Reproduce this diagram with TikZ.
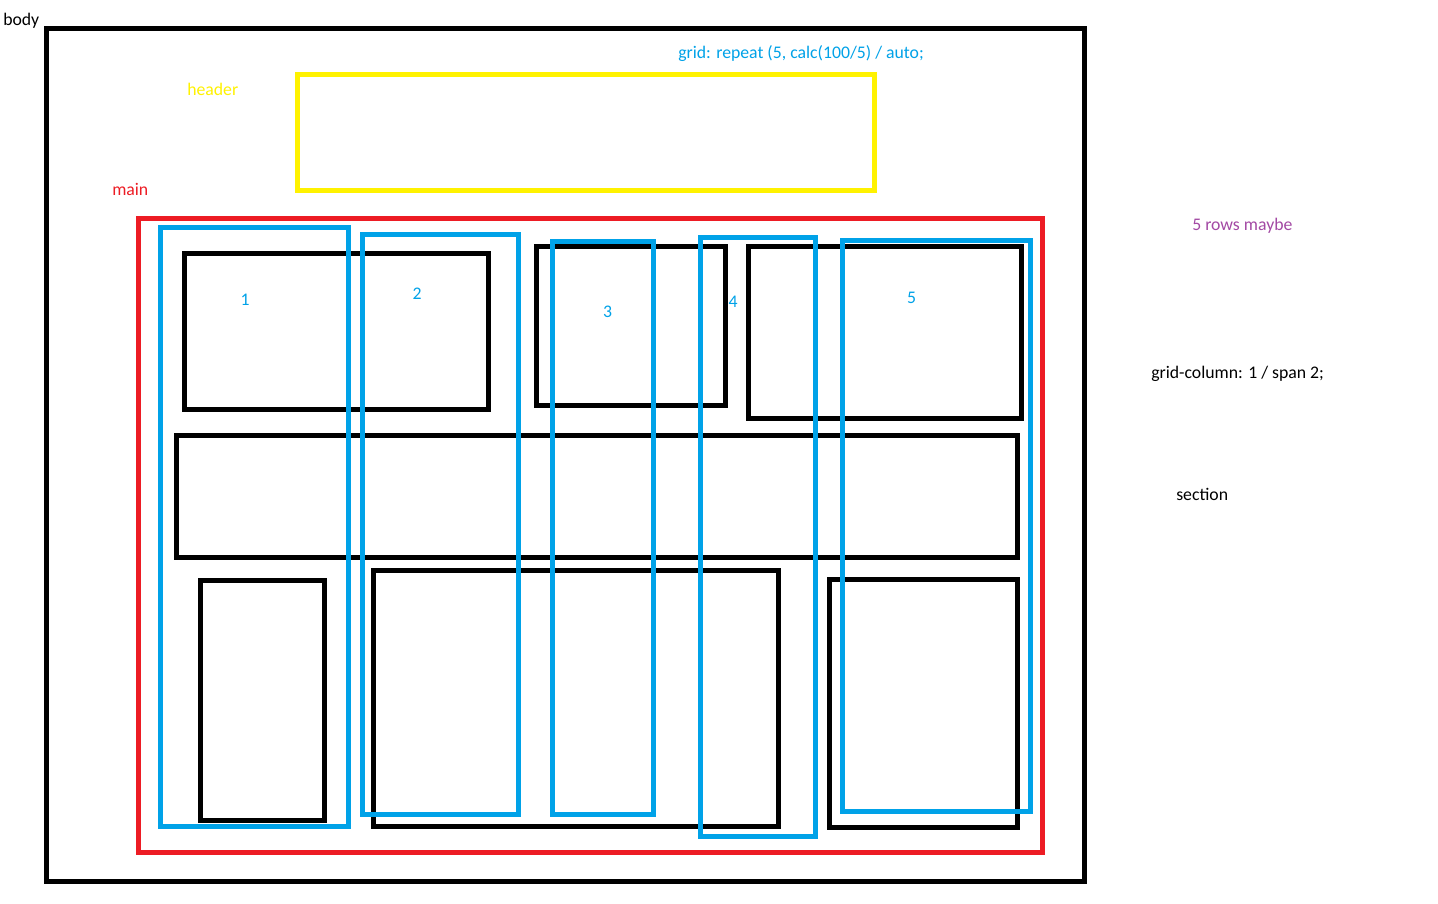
\documentclass[tikz,border=0pt]{standalone}
\usepackage{fontspec}
\setmainfont{Carlito}
\definecolor{pblue}{HTML}{00A2E8}
\definecolor{pred}{HTML}{ED1C24}
\definecolor{pyellow}{HTML}{FFF200}
\definecolor{ppurple}{HTML}{A349A4}
\tikzset{
  frame/.style={line width=3.75pt, line join=miter},
  blackbox/.style={frame, draw=black},
  bluebox/.style={frame, draw=pblue},
  redbox/.style={frame, draw=pred},
  yellowbox/.style={frame, draw=pyellow},
  lbl/.style={inner sep=0pt, anchor=base west, font=\fontsize{13.3}{15}\selectfont},
  num/.style={inner sep=0pt, anchor=base, font=\fontsize{13.3}{15}\selectfont, text=pblue}
}
\begin{document}
\begin{tikzpicture}[x=0.75pt,y=-0.75pt]
\useasboundingbox[fill=white] (0,0) rectangle (1438,903);
% body
\draw[blackbox] (46.5,28.5) rectangle (1084.5,881);
% header
\draw[yellowbox] (297.5,74) rectangle (874.5,190.5);
% main
\draw[redbox] (138.5,218.5) rectangle (1042.5,852);
% black sections
\draw[blackbox] (184.5,253.5) rectangle (488,409);
\draw[blackbox] (536.5,246.5) rectangle (725,405.5);
\draw[blackbox] (748.5,246.5) rectangle (1021.5,418.5);
\draw[blackbox] (176.5,435.5) rectangle (1017.5,557.5);
\draw[blackbox] (200.5,580.5) rectangle (324.5,820.5);
\draw[blackbox] (373.5,570.5) rectangle (778.5,826.5);
\draw[blackbox] (829.5,579.5) rectangle (1017.5,827.5);
% blue columns
\draw[bluebox] (160.5,227.5) rectangle (348,826.5);
\draw[bluebox] (362.5,234.5) rectangle (518.5,814.5);
\draw[bluebox] (552.5,241) rectangle (653.5,814.5);
\draw[bluebox] (700.5,237) rectangle (815.5,836.5);
\draw[bluebox] (842.5,240.5) rectangle (1030.5,811.5);
% labels
\node[lbl] (tbody) at (3,26) {body};
\node[lbl, text=pyellow] (theader) at (187,95) {header};
\node[lbl, text=pred] (tmain) at (112,195) {main};
\node[lbl, text=pblue] (tgrid) at (678,58) {grid: repeat (5, calc(100/5) / auto;};
\node[lbl, text=ppurple] (trows) at (1192,230) {5 rows maybe};
\node[lbl] (tcol) at (1151,378) {grid-column: 1 / span 2;};
\node[lbl] (tsec) at (1176,500) {section};
\node[num] (n1) at (245,305) {1};
\node[num] (n2) at (417,299) {2};
\node[num] (n3) at (607.5,317) {3};
\node[num] (n4) at (733,307) {4};
\node[num] (n5) at (911.5,303) {5};
\end{tikzpicture}
\end{document}
